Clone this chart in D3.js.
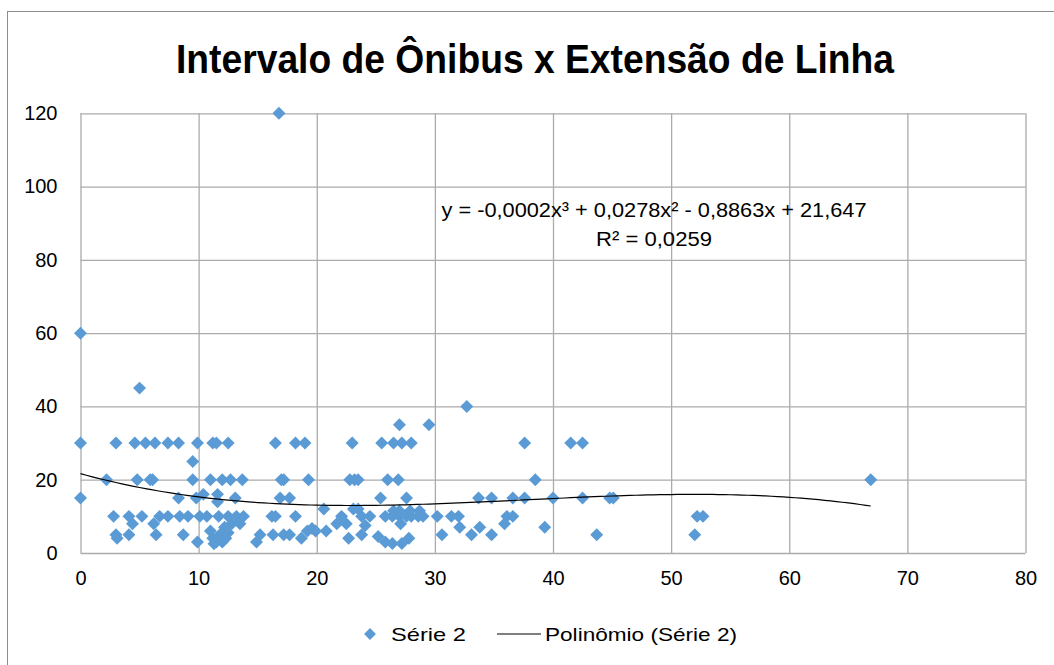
<!DOCTYPE html>
<html>
<head>
<meta charset="utf-8">
<script src="https://cdn.jsdelivr.net/npm/d3@7"></script>
<style>
    body { margin: 0; background: #fff; }
    text { font-family: 'Liberation Sans', Arial, sans-serif; fill: #000; }
</style>
</head>
<body>
<script>
// Extensão de linha (km) x intervalo (min)
const seriesX = [
    0, 16.8, 5.0, 32.7, 27.0, 29.5,
    0, 3.0, 4.6, 5.5, 6.3, 7.4, 8.3, 9.9, 11.2, 11.5, 12.5, 16.5, 18.2, 19.0, 23.0, 25.5, 26.5, 27.2, 28.0, 37.6, 41.5, 42.5,
    9.5,
    2.2, 4.8, 5.9, 6.1, 9.5, 11.0, 12.0, 12.7, 13.7, 17.0, 17.2, 19.3, 22.8, 23.2, 23.5, 26.0, 26.9, 38.5, 66.9,
    0, 8.3, 9.8, 10.4, 11.6, 11.6, 13.1, 16.9, 17.7, 25.4, 27.6, 33.7, 34.8, 36.6, 37.6, 40.0, 42.5, 44.8, 45.1,
    20.6, 23.1, 23.5, 26.5, 27.0, 27.9, 28.7,
    2.8, 4.1, 5.2, 6.7, 7.4, 8.4, 9.1, 10.1, 10.7, 11.7, 12.5, 13.2, 13.8, 16.2, 16.5, 18.2, 22.1, 23.8, 24.5, 25.8, 26.4, 27.0, 27.6, 28.0, 28.6, 29.0, 30.2, 31.4, 32.0, 36.1, 36.6, 52.2, 52.7,
    4.4, 6.2, 12.8, 13.5, 21.7, 22.5, 24.1, 27.1, 35.9,
    12.2, 32.1, 33.8, 39.3, 19.6,
    19.2, 19.9, 20.8, 11.0, 12.5,
    3.0, 4.1, 6.4, 8.7, 11.8, 15.2, 16.3, 17.2, 17.7, 23.8, 25.2, 30.6, 33.1, 34.8, 43.7, 52.0,
    3.1, 11.2, 12.3, 18.7, 22.7, 27.8,
    9.9, 11.5, 12.0, 14.9, 25.8, 26.4, 27.2, 11.3
];
const seriesY = [
    60, 120, 45, 40, 35, 35,
    30, 30, 30, 30, 30, 30, 30, 30, 30, 30, 30, 30, 30, 30, 30, 30, 30, 30, 30, 30, 30, 30,
    25,
    20, 20, 20, 20, 20, 20, 20, 20, 20, 20, 20, 20, 20, 20, 20, 20, 20, 20, 20,
    15, 15, 15, 16, 16, 14, 15, 15, 15, 15, 15, 15, 15, 15, 15, 15, 15, 15, 15,
    12, 12, 12, 11.5, 11.5, 11.5, 11.5,
    10, 10, 10, 10, 10, 10, 10, 10, 10, 10, 10, 10, 10, 10, 10, 10, 10, 10, 10, 10, 10, 10, 10, 10, 10, 10, 10, 10, 10, 10, 10, 10, 10,
    8, 8, 8, 8, 8, 8, 7.5, 8, 8,
    7, 7, 7, 7, 6.7,
    6, 6, 6, 6, 5.5,
    5, 5, 5, 5, 5, 5, 5, 5, 5, 5, 4.5, 5, 5, 5, 5, 5,
    4, 4, 4, 4, 4, 4,
    3, 3, 3, 3, 3, 2.6, 2.6, 2.5
];
// Polinômio (Série 2): c0 + c1 x + c2 x² + c3 x³
const trendCoef = [21.647, -0.8863, 0.0278, -0.000247];
const trendRange = [0, 66.9];
const xTicks = [0, 10, 20, 30, 40, 50, 60, 70, 80];
const yTicks = [0, 20, 40, 60, 80, 100, 120];
const titleText = 'Intervalo de Ônibus x Extensão de Linha';
const legendLabels = ['Série 2', 'Polinômio (Série 2)'];

const width = 1054, height = 665;
const margin = {left: 80.5, right: 28.5, top: 113.3, bottom: 112};

const svg = d3.select('body')
    .append('svg')
    .attr('width', width)
    .attr('height', height);

// chart border
svg.append('rect')
    .attr('x', 7.5)
    .attr('y', 11.5)
    .attr('width', 1100)
    .attr('height', 700)
    .attr('fill', 'none')
    .attr('stroke', '#8c8c8c');

const x = d3.scaleLinear().domain([0, 80]).range([margin.left, width - margin.right]);
const y = d3.scaleLinear().domain([0, 120]).range([height - margin.bottom, margin.top]);

svg.append('text')
    .attr('x', 535)
    .attr('y', 73)
    .attr('text-anchor', 'middle')
    .attr('font-size', 40)
    .attr('font-weight', 'bold')
    .attr('textLength', 718)
    .attr('lengthAdjust', 'spacingAndGlyphs')
    .text(titleText);

// gridlines + tick labels
const xAxis = svg.append('g')
    .attr('transform', 'translate(0,' + y(0) + ')')
    .call(d3.axisBottom(x).tickValues(xTicks).tickSize(-(y(0) - y(120))).tickPadding(18));
const yAxis = svg.append('g')
    .attr('transform', 'translate(' + x(0) + ',0)')
    .call(d3.axisLeft(y).tickValues(yTicks).tickSize(-(x(80) - x(0))).tickPadding(23));

[xAxis, yAxis].forEach(ax => {
    ax.select('.domain').remove();
    ax.selectAll('line').attr('stroke', '#ababab').attr('stroke-width', 1.3);
    ax.selectAll('text').attr('font-size', 20).attr('fill', '#000')
        .style('font-family', "'Liberation Sans', Arial, sans-serif");
});

// points
svg.append('g')
    .selectAll('path')
    .data(seriesX.map((d, i) => [d, seriesY[i]]))
    .enter()
    .append('path')
    .attr('d', d3.symbol(d3.symbolSquare, 84)())
    .attr('transform', d => 'translate(' + x(d[0]) + ',' + y(d[1]) + ') rotate(45)')
    .attr('fill', '#5b9bd5');

// trend line
const poly = v => trendCoef.reduce((s, c, k) => s + c * Math.pow(v, k), 0);
const trendX = d3.range(trendRange[0], trendRange[1], 0.5).concat([trendRange[1]]);
svg.append('path')
    .datum(trendX)
    .attr('fill', 'none')
    .attr('stroke', '#000')
    .attr('stroke-width', 1.2)
    .attr('d', d3.line().x(d => x(d)).y(d => y(poly(d))));

// equation
svg.append('text')
    .attr('x', 654)
    .attr('y', 217)
    .attr('text-anchor', 'middle')
    .attr('font-size', 20)
    .attr('textLength', 425)
    .attr('lengthAdjust', 'spacingAndGlyphs')
    .text('y = -0,0002x³ + 0,0278x² - 0,8863x + 21,647');
svg.append('text')
    .attr('x', 654)
    .attr('y', 246)
    .attr('text-anchor', 'middle')
    .attr('font-size', 20)
    .attr('textLength', 116)
    .attr('lengthAdjust', 'spacingAndGlyphs')
    .text('R² = 0,0259');

// legend
const legend = svg.append('g').attr('transform', 'translate(0,634)');
legend.append('path')
    .attr('d', d3.symbol(d3.symbolSquare, 70)())
    .attr('transform', 'translate(370,0) rotate(45)')
    .attr('fill', '#5b9bd5');
legend.append('text')
    .attr('x', 391)
    .attr('y', 7)
    .attr('font-size', 19)
    .attr('textLength', 75)
    .attr('lengthAdjust', 'spacingAndGlyphs')
    .text(legendLabels[0]);
legend.append('line')
    .attr('x1', 497).attr('x2', 541)
    .attr('stroke', '#000')
    .attr('stroke-width', 1.2);
legend.append('text')
    .attr('x', 545)
    .attr('y', 7)
    .attr('font-size', 19)
    .attr('textLength', 192)
    .attr('lengthAdjust', 'spacingAndGlyphs')
    .text(legendLabels[1]);
</script>
</body>
</html>
